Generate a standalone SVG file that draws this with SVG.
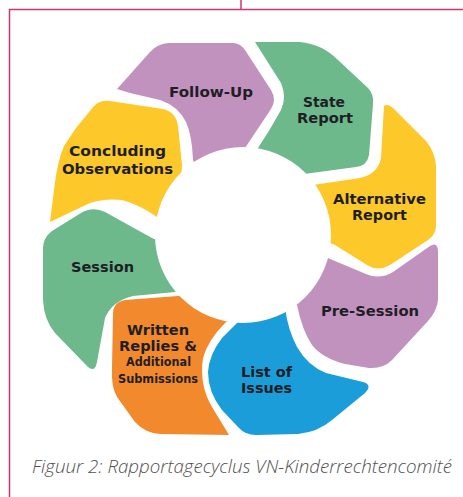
<svg xmlns="http://www.w3.org/2000/svg" width="463" height="497" viewBox="0 0 463 497">
<style>
.frame{fill:none;stroke:#d1336d;stroke-width:1.5}
.purple{fill:#c292bf}
.green{fill:#6db98c}
.yellow{fill:#fdc82a}
.blue{fill:#1b9dd9}
.orange{fill:#f2892d}
.lbl{font-family:"DejaVu Sans","Liberation Sans",sans-serif;font-weight:bold;font-size:14px;fill:#1e1e24;text-anchor:middle}
.sm{font-size:11.5px}
.cap{font-family:"Open Sans","Liberation Sans",sans-serif;font-style:italic;font-weight:300;font-size:17.5px;fill:#505050}
</style>
<rect width="463" height="497" fill="#fff"/>
<path class="frame" d="M241,0 V9.5 M463,9.5 H9.5 V497"/>
<g id="follow-up">
<path class="purple" d="M117,89 L150,52 Q157,44 168,43 L233,43 Q240,43 245,50 L271,90 Q277,100 271,109 L245,148 L230,180 L200,180 L193,160 Q192,135 186,122 Q178,106 160,100 L130,93 Z"/>
<text class="lbl" x="211" y="97" textLength="84" lengthAdjust="spacingAndGlyphs">Follow-Up</text>
</g>
<g id="state-report">
<path class="green" d="M255,42 L300,42 Q322,44 338,60 L368,88 Q374,94 373,104 L369,155 Q367,166 356,167 L304,174 L270,200 L258,148 Q270,130 281,110 Q287,97 281,83 Z"/>
<text class="lbl" x="324" y="107" textLength="42" lengthAdjust="spacingAndGlyphs">State</text>
<text class="lbl" x="325" y="123" textLength="56" lengthAdjust="spacingAndGlyphs">Report</text>
</g>
<g id="alternative-report">
<path class="yellow" d="M384,106 Q388,103 394,109 L426,141 Q435,152 436,166 L436,226 Q436,234 428,240 L390,265 Q378,272 367,265 L335,245 L300,230 L313,185 L360,178 Q378,174 381,158 Z"/>
<text class="lbl" x="379.5" y="204" textLength="93" lengthAdjust="spacingAndGlyphs">Alternative</text>
<text class="lbl" x="379.5" y="220" textLength="55" lengthAdjust="spacingAndGlyphs">Report</text>
</g>
<g id="pre-session">
<path class="purple" d="M323,256 L366,274 Q380,280 393,272 L430,246 Q438,241 438,252 L438,300 Q437,311 428,321 L392,360 Q383,369 369,368 L345,364 Q322,358 312,345 Q302,330 297,305 L270,280 Z"/>
<text class="lbl" x="370" y="316" textLength="98" lengthAdjust="spacingAndGlyphs">Pre-Session</text>
</g>
<g id="list-of-issues">
<path class="blue" d="M285,308 Q288,330 297,347 Q308,366 326,373 L363,382 Q373,385 365,393 L332,420 Q318,432 298,434 L256,435 Q245,435 238,427 L222,410 Q208,392 208,372 Q209,355 222,338 L238,322 L260,290 Z"/>
<text class="lbl" x="266.5" y="377" textLength="51" lengthAdjust="spacingAndGlyphs">List of</text>
<text class="lbl" x="266.5" y="393" textLength="51" lengthAdjust="spacingAndGlyphs">Issues</text>
</g>
<g id="written-replies">
<path class="orange" d="M113,314 Q113,302 125,300 L178,296 L235,300 L235,315 L225,323 Q208,340 203,358 Q199,385 212,407 L229,435 L160,434 Q145,433 135,422 L117,397 Q111,387 112,368 Z"/>
<text class="lbl" x="158" y="335" textLength="62" lengthAdjust="spacingAndGlyphs">Written</text>
<text class="lbl" x="158" y="351" textLength="78" lengthAdjust="spacingAndGlyphs">Replies &amp;</text>
<text class="lbl sm" x="158.5" y="366" textLength="65" lengthAdjust="spacingAndGlyphs">Additional</text>
<text class="lbl sm" x="158" y="383" textLength="80" lengthAdjust="spacingAndGlyphs">Submissions</text>
</g>
<g id="session">
<path class="green" d="M43,248 Q43,238 52,231 L81,213 Q93,206 105,212 L152,238 L200,260 L175,292 L133,296 Q112,301 105,318 L97,362 Q95,373 88,367 L55,333 Q44,320 43,300 Z"/>
<text class="lbl" x="102.5" y="272" textLength="63" lengthAdjust="spacingAndGlyphs">Session</text>
</g>
<g id="concluding-observations">
<path class="yellow" d="M50,222 L55,182 Q58,160 64,146 L76,128 L94,106 Q100,100 110,101 L163,109 Q176,112 178,126 L182,165 Q182,175 178,181 L220,200 L157,217 Q140,205 122,200 Q105,198 90,203 Z"/>
<text class="lbl" x="117.5" y="156" textLength="97" lengthAdjust="spacingAndGlyphs">Concluding</text>
<text class="lbl" x="117.5" y="174" textLength="111" lengthAdjust="spacingAndGlyphs">Observations</text>
</g>
<g id="connectors">
<circle cx="243" cy="235" r="88" fill="#fff"/>
</g>
<text class="cap" x="32" y="473" textLength="420" lengthAdjust="spacingAndGlyphs">Figuur 2: Rapportagecyclus VN-Kinderrechtencomité</text>
</svg>
